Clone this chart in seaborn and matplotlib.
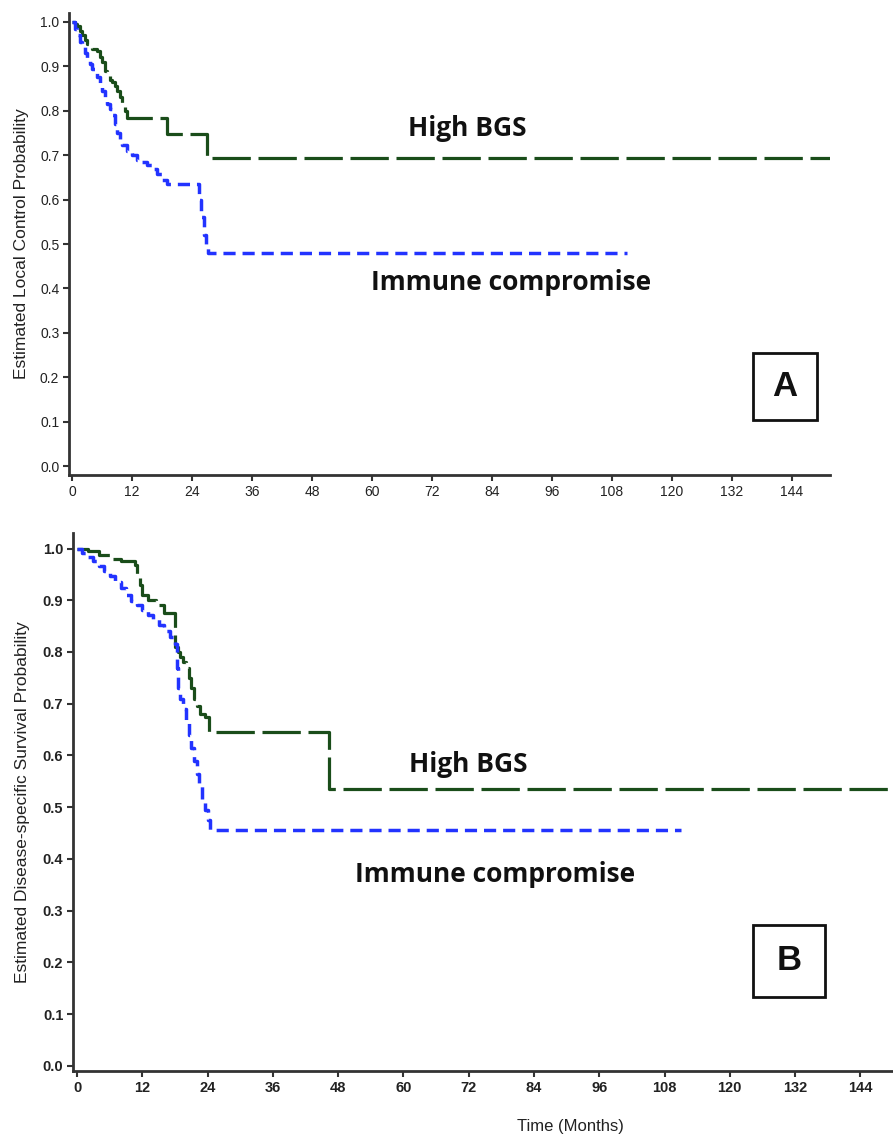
"""
Kaplan-Meier style curves: local control (A) and disease-specific survival (B),
High BGS vs Immune compromise.
"""

import matplotlib
matplotlib.use("Agg")
import matplotlib.pyplot as plt
import matplotlib.patches as patches
import pandas as pd
import seaborn as sns

# ---- data (months, probability) ----
a_bgs_t = [0, 0.5, 1, 1.5, 2, 2.5, 3, 4, 5, 5.5, 6, 6.5, 7, 7.5, 8, 8.5, 9, 9.5, 10,
           10.5, 11, 19, 27, 151.6]
a_bgs_s = [1.0, 0.995, 0.99, 0.98, 0.97, 0.96, 0.95, 0.94, 0.935, 0.92, 0.91, 0.89,
           0.88, 0.87, 0.865, 0.855, 0.845, 0.83, 0.815, 0.80, 0.783, 0.747, 0.694,
           0.694]

a_imm_t = [0, 0.5, 1, 1.5, 2, 2.5, 3, 3.5, 4, 4.5, 5, 5.5, 6, 6.5, 7, 7.5, 8, 8.5,
           9, 9.5, 10, 11, 12, 13, 14, 15, 16, 17, 18, 19, 25.3, 25.8, 26.3, 26.8,
           27.2, 111]
a_imm_s = [1.0, 0.985, 0.97, 0.955, 0.943, 0.93, 0.915, 0.905, 0.895, 0.885, 0.875,
           0.86, 0.845, 0.83, 0.815, 0.805, 0.79, 0.77, 0.75, 0.735, 0.722, 0.71,
           0.70, 0.69, 0.685, 0.677, 0.668, 0.658, 0.645, 0.636, 0.60, 0.56, 0.52,
           0.49, 0.479, 0.479]

b_bgs_t = [0, 2, 4, 6, 8, 10.6, 11, 11.5, 12, 13, 14.5, 16, 18, 18.5, 19, 19.5, 20,
           20.5, 21, 21.5, 22, 22.6, 23.5, 24.3, 46.3, 150]
b_bgs_s = [1.0, 0.995, 0.988, 0.98, 0.975, 0.969, 0.95, 0.93, 0.91, 0.90, 0.89,
           0.875, 0.81, 0.80, 0.79, 0.78, 0.77, 0.75, 0.73, 0.71, 0.695, 0.68, 0.675,
           0.646, 0.536, 0.536]

b_imm_t = [0, 1, 2, 3, 4, 5, 6, 7, 8, 9, 10, 11, 12, 13, 14, 15, 16, 17, 18, 18.3,
           18.6, 19, 19.5, 20, 20.5, 21, 21.5, 22, 22.5, 23, 23.5, 24, 24.5, 111]
b_imm_s = [1.0, 0.992, 0.983, 0.975, 0.967, 0.957, 0.946, 0.936, 0.924, 0.91, 0.898,
           0.89, 0.882, 0.872, 0.863, 0.852, 0.84, 0.828, 0.815, 0.77, 0.73, 0.71,
           0.69, 0.665, 0.64, 0.615, 0.59, 0.565, 0.54, 0.515, 0.495, 0.475, 0.456,
           0.456]

x_ticks = list(range(0, 145, 12))
y_ticks = [i / 10 for i in range(11)]

GREEN = "#1a4d1a"
BLUE = "#2233ff"

sns.set_style("ticks")
plt.rcParams["font.family"] = ["Liberation Sans", "DejaVu Sans"]


def km_panel(ax, bgs_t, bgs_s, imm_t, imm_s, xlim, ylim, ylabel, tick_size, tick_weight):
    bgs = pd.DataFrame({"t": bgs_t, "s": bgs_s})
    imm = pd.DataFrame({"t": imm_t, "s": imm_s})
    sns.lineplot(data=bgs, x="t", y="s", ax=ax, color=GREEN, lw=2.3,
                 drawstyle="steps-post", estimator=None, sort=False)
    ax.lines[-1].set_dashes((12, 2.4))
    sns.lineplot(data=imm, x="t", y="s", ax=ax, color=BLUE, lw=2.5,
                 drawstyle="steps-post", estimator=None, sort=False)
    ax.lines[-1].set_dashes((3.5, 2.0))

    ax.set_xlim(*xlim)
    ax.set_ylim(*ylim)
    ax.set_xticks(x_ticks)
    ax.set_yticks(y_ticks)
    ax.set_yticklabels([f"{v:.1f}" for v in y_ticks])
    for lab in ax.get_xticklabels() + ax.get_yticklabels():
        lab.set_fontsize(tick_size)
        lab.set_fontweight(tick_weight)
        lab.set_color("#222222")
    ax.tick_params(direction="out", length=4, width=1.5, color="#333333", pad=3)
    for side in ["top", "right"]:
        ax.spines[side].set_visible(False)
    for side in ["left", "bottom"]:
        ax.spines[side].set_color("#333333")
        ax.spines[side].set_linewidth(2)
    ax.set_xlabel("")
    ax.set_ylabel(ylabel, fontsize=12.5, color="#222222")


fig = plt.figure(figsize=(8.93, 11.4), dpi=100)
W, H = 893, 1140

ax_a = fig.add_axes([69 / W, 1 - 475 / H, 761 / W, 462 / H])
km_panel(ax_a, a_bgs_t, a_bgs_s, a_imm_t, a_imm_s, (-0.6, 151.6), (-0.02, 1.02),
         "Estimated Local Control Probability", 10, "normal")
ax_a.yaxis.set_label_coords(-0.052, 0.5)

ax_b = fig.add_axes([73 / W, 1 - 1071 / H, 820 / W, 538 / H])
km_panel(ax_b, b_bgs_t, b_bgs_s, b_imm_t, b_imm_s, (-0.74, 150), (-0.01, 1.03),
         "Estimated Disease-specific Survival Probability", 10.5, "bold")
ax_b.yaxis.set_label_coords(-0.052, 0.5)
fig.text(570 / W, 1 - 1126 / H, "Time (Months)", fontsize=12, color="#222222",
         ha="center", va="center")

# group labels
lab_kw = dict(fontsize=19, fontweight="bold", family=["Open Sans", "DejaVu Sans"],
              ha="center", va="center", color="#111111")
fig.text(467 / W, 1 - 128 / H, "High BGS", **lab_kw)
fig.text(511 / W, 1 - 283 / H, "Immune compromise", **lab_kw)
fig.text(468 / W, 1 - 765 / H, "High BGS", **lab_kw)
fig.text(495 / W, 1 - 875 / H, "Immune compromise", **lab_kw)

# panel letters in boxes
for (x0, y0, x1, y1, letter) in [(753, 353, 817, 420, "A"), (753, 925, 825, 997, "B")]:
    fig.add_artist(patches.Rectangle((x0 / W, 1 - y1 / H), (x1 - x0) / W, (y1 - y0) / H,
                                     transform=fig.transFigure, fill=False,
                                     ec="#111111", lw=2))
    fig.text((x0 + x1) / 2 / W, 1 - (y0 + y1) / 2 / H, letter, fontsize=25,
             fontweight="bold", ha="center", va="center", color="#111111")

fig.savefig("out.png", dpi=100)
